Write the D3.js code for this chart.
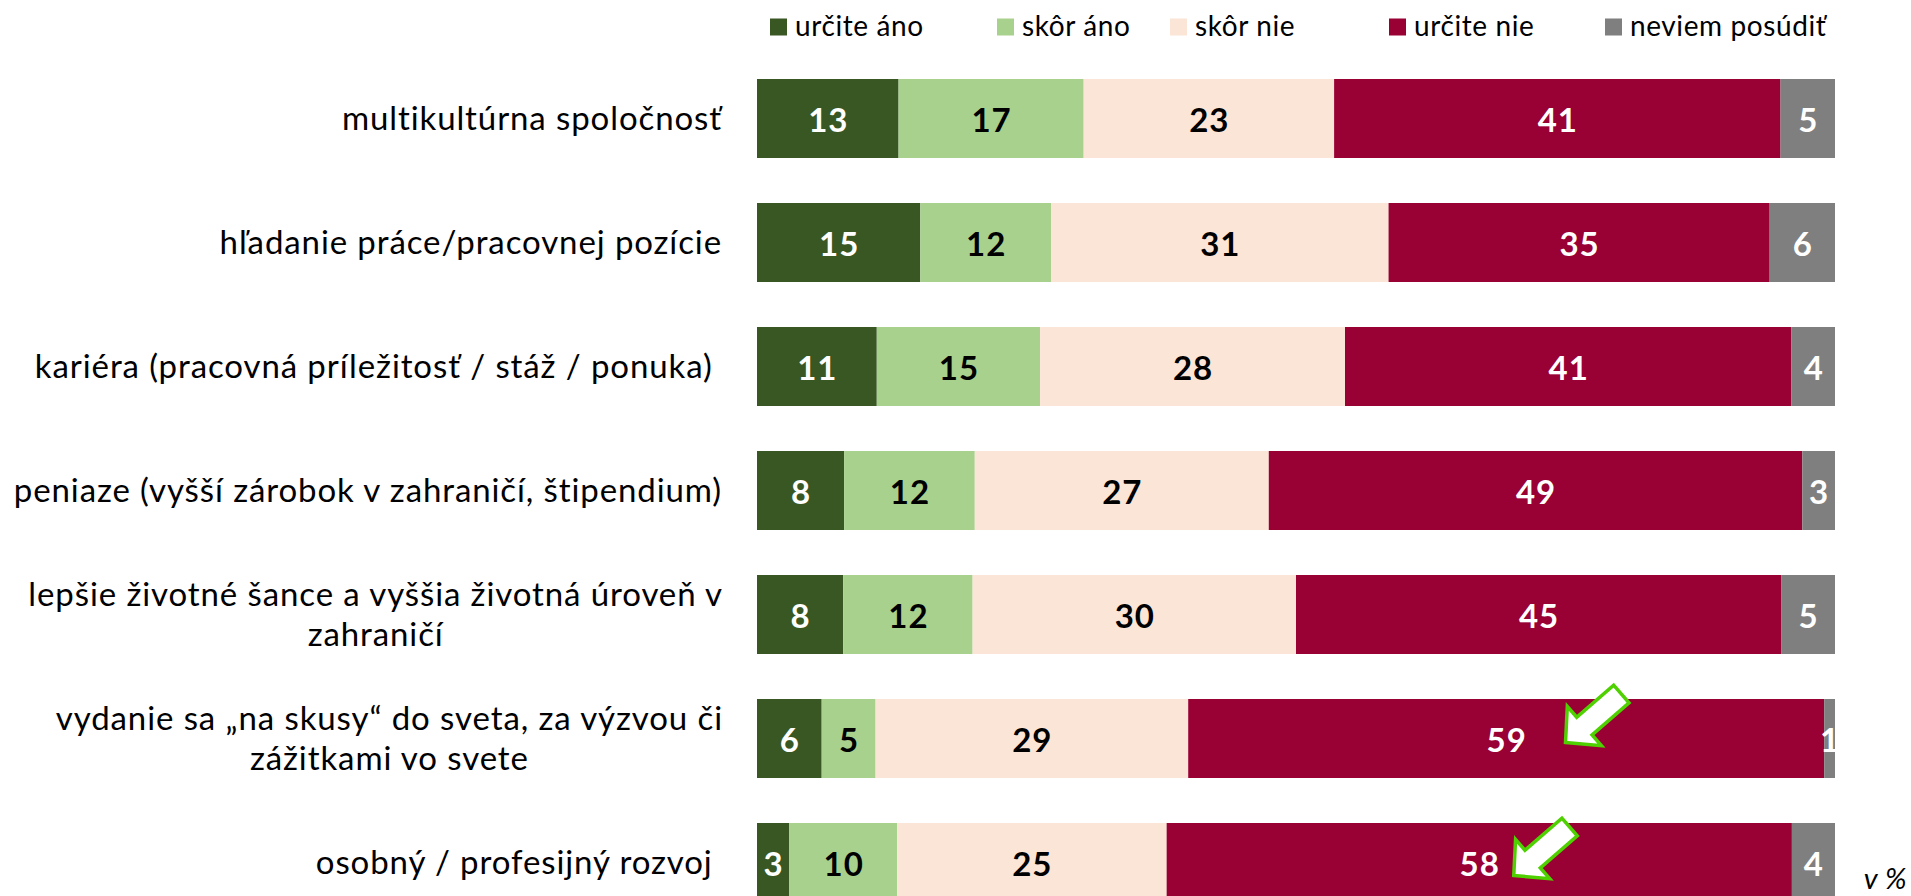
<!DOCTYPE html>
<html>
<head>
<meta charset="utf-8">
<script src="https://cdn.jsdelivr.net/npm/d3@7"></script>
<style>
  body { margin: 0; background: #fff; }
  svg { display: block; font-family: Lato, "Open Sans", sans-serif; }
  .cat { white-space: pre; }
</style>
</head>
<body>
<div id="chart"></div>
<script>
// kategórie (zalomenie riadku cez \n)
var categories = [
    "multikultúrna spoločnosť",
    "hľadanie práce/pracovnej pozície",
    "kariéra (pracovná príležitosť / stáž / ponuka) ",
    "peniaze (vyšší zárobok v zahraničí, štipendium)",
    "lepšie životné šance a vyššia životná úroveň v\nzahraničí",
    "vydanie sa „na skusy“ do sveta, za výzvou či\nzážitkami vo svete",
    "osobný / profesijný rozvoj "
];
var seriesNames = ["určite áno", "skôr áno", "skôr nie", "určite nie", "neviem posúdiť"];
var urciteAno = [13, 15, 11, 8, 8, 6, 3];
var skorAno   = [17, 12, 15, 12, 12, 5, 10];
var skorNie   = [23, 31, 28, 27, 30, 29, 25];
var urciteNie = [41, 35, 41, 49, 45, 59, 58];
var neviem    = [5, 6, 4, 3, 5, 1, 4];
// šípky: riadok a pozícia hrotu v %
var arrowRows = [5, 6];
var arrowAt   = [75, 70.2];

var colors = ["#385723", "#a9d18e", "#fbe5d6", "#990033", "#7f7f7f"];
var labelColors = ["#fff", "#000", "#000", "#fff", "#fff"];

var svgWidth = 1911, svgHeight = 896;
var svg = d3.select("#chart").append("svg")
    .attr("width", svgWidth)
    .attr("height", svgHeight);

var table = categories.map(function(c, i) {
    return { cat: c, s0: urciteAno[i], s1: skorAno[i], s2: skorNie[i], s3: urciteNie[i], s4: neviem[i] };
});
var keys = ["s0", "s1", "s2", "s3", "s4"];
var stacked = d3.stack().keys(keys).offset(d3.stackOffsetExpand)(table);

var x = d3.scaleLinear().domain([0, 1]).range([757, 1835]);
var y = d3.scaleBand().domain(categories).range([56.5, 924.5]).paddingInner(0.363).paddingOuter(0.1815);

// pruhy
var layers = svg.append("g").selectAll("g")
    .data(stacked)
    .enter().append("g")
    .attr("fill", function(d, i) { return colors[i]; });

layers.selectAll("rect")
    .data(function(d) { return d; })
    .enter().append("rect")
    .attr("x", function(d) { return x(d[0]); })
    .attr("y", function(d) { return y(d.data.cat); })
    .attr("width", function(d) { return x(d[1]) - x(d[0]); })
    .attr("height", y.bandwidth());

// hodnoty
layers.selectAll("text")
    .data(function(d, i) { return d.map(function(p) { return { p: p, k: i }; }); })
    .enter().append("text")
    .attr("x", function(d) { return (x(d.p[0]) + x(d.p[1])) / 2 + 0.5; })
    .attr("y", function(d) { return y(d.p.data.cat) + y.bandwidth() / 2 + 13.5; })
    .attr("text-anchor", "middle")
    .attr("font-size", "33px")
    .attr("font-weight", "bold")
    .attr("letter-spacing", "1px")
    .attr("fill", function(d) { return labelColors[d.k]; })
    .text(function(d) { return d.p.data[keys[d.k]]; });

// popisy kategórií
var catG = svg.append("g");
categories.forEach(function(c) {
    var lines = c.split("\n");
    var cy = y(c) + y.bandwidth() / 2;
    var t = catG.append("text")
        .attr("class", "cat")
        .attr("font-size", "33px")
        .attr("letter-spacing", "0.9px")
        .attr("fill", "#000");
    lines.forEach(function(l, j) {
        t.append("tspan")
            .attr("y", cy + 11.7 + (j - (lines.length - 1) / 2) * 40)
            .text(l);
    });
    if (lines.length === 1) {
        t.attr("text-anchor", "end").selectAll("tspan").attr("x", 722);
    } else {
        var maxW = 0;
        t.selectAll("tspan").each(function() { maxW = Math.max(maxW, this.getComputedTextLength()); });
        t.attr("text-anchor", "middle").selectAll("tspan").attr("x", 723 - maxW / 2);
    }
});

// legenda
var legendX = [770, 997, 1170, 1389, 1605];
seriesNames.forEach(function(n, i) {
    svg.append("rect")
        .attr("x", legendX[i]).attr("y", 18.5)
        .attr("width", 17).attr("height", 17)
        .attr("fill", colors[i]);
    svg.append("text")
        .attr("x", legendX[i] + 25).attr("y", 35.5)
        .attr("font-size", "28px")
        .attr("letter-spacing", "0.6px")
        .attr("fill", "#000")
        .text(n);
});

// šípky
var aLen = 74, headLen = 25, headW = 26, shaftW = 11.7;
var arrowPts = [[0, 0], [-headLen, -headW], [-headLen, -shaftW], [-aLen, -shaftW],
                [-aLen, shaftW], [-headLen, shaftW], [-headLen, headW]];
var arrowDy = [4, 13];
arrowRows.forEach(function(r, i) {
    var tx = x(arrowAt[i] / 100);
    var ty = y(categories[r]) + y.bandwidth() / 2 + arrowDy[i];
    svg.append("polygon")
        .attr("points", arrowPts.map(function(p) { return p.join(","); }).join(" "))
        .attr("transform", "translate(" + tx + "," + ty + ") rotate(139)")
        .attr("fill", "#fff")
        .attr("stroke", "#4fd000")
        .attr("stroke-width", 3.5)
        .attr("stroke-linejoin", "miter");
});

svg.append("text")
    .attr("x", 1907).attr("y", 889)
    .attr("text-anchor", "end")
    .attr("font-size", "29px")
    .attr("font-style", "italic")
    .attr("letter-spacing", "0.5px")
    .attr("fill", "#000")
    .text("v %");
</script>
</body>
</html>
